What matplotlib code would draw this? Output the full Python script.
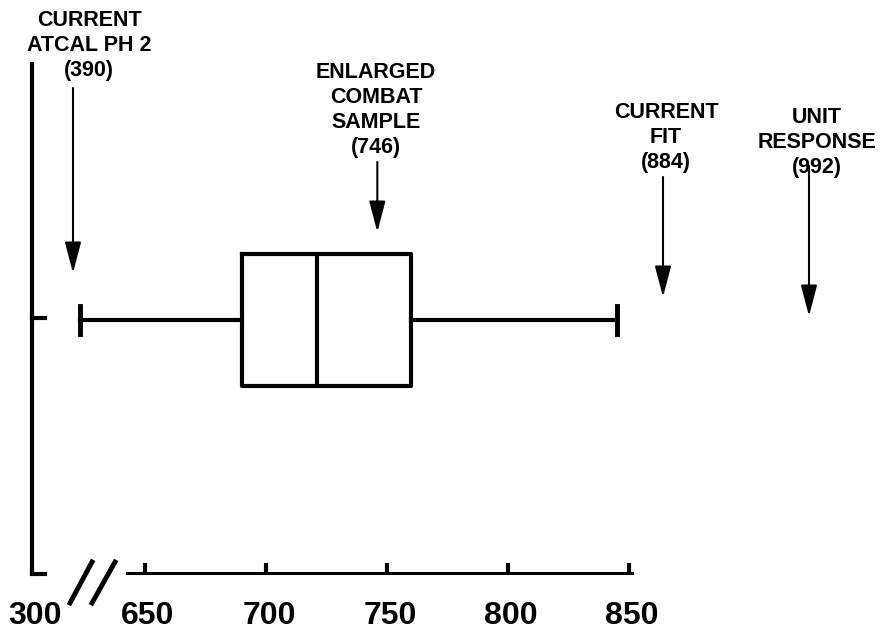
import numpy as np
import matplotlib
matplotlib.use("Agg")
import matplotlib.pyplot as plt

plt.rcParams["font.family"] = ["Liberation Sans", "DejaVu Sans"]
plt.rcParams["font.weight"] = "bold"

# box plot summary
box_whislo = 405
box_q1 = 690
box_med = 721
box_q3 = 760
box_whishi = 845

# labelled reference values with arrows
marker_labels = [
    "CURRENT\nATCAL PH 2\n(390)",
    "ENLARGED\nCOMBAT\nSAMPLE\n(746)",
    "CURRENT\nFIT\n(884)",
    "UNIT\nRESPONSE\n(992)",
]
marker_values = [390, 746, 884, 992]

tick_values = [300, 650, 700, 750, 800, 850]

# broken axis: piecewise mapping value -> pixel column
value_knots = [200, 300, 390, 410, 640, 850, 884, 992, 1100]
pixel_knots = [-14, 32, 73, 82, 120.8, 629, 663, 809, 955]


def fwd(v):
    return np.interp(v, value_knots, pixel_knots)


def inv(p):
    return np.interp(p, pixel_knots, value_knots)


fig = plt.figure(figsize=(8.8, 6.32), dpi=100)
ax = fig.add_axes([0, 0, 1, 1])
ax.set_xscale("function", functions=(fwd, inv))
ax.set_xlim(inv(0), inv(880))
ax.set_ylim(632, 0)
ax.axis("off")

# box plot
stats = [dict(whislo=box_whislo, q1=box_q1, med=box_med, q3=box_q3, whishi=box_whishi)]
ax.bxp(
    stats, positions=[320], widths=[132], capwidths=[28],
    orientation="horizontal", showfliers=False,
    boxprops=dict(color="black", lw=3),
    medianprops=dict(color="black", lw=3),
    whiskerprops=dict(color="black", lw=3),
    capprops=dict(color="black", lw=3.5),
    manage_ticks=False,
)

# arrows and labels
text_x = [89, 376, 666, 817]
text_top = [10, 62, 102, 107]
arrow_tail = [88, 162, 177, 166]
arrow_tip = [273, 232, 297, 316]
for lab, v, tx, tt, ya, yb in zip(marker_labels, marker_values, text_x, text_top, arrow_tail, arrow_tip):
    ax.text(inv(tx), tt, lab, ha="center", va="top", fontsize=15.5,
            fontweight="bold", linespacing=1.25, multialignment="center")
    ax.annotate(
        "", xy=(v, yb), xytext=(v, ya),
        arrowprops=dict(arrowstyle="-|>,head_length=1.9,head_width=0.5",
                        mutation_scale=10, lw=1.5, color="black",
                        shrinkA=0, shrinkB=0),
    )

# left axis
ax.plot([300, 300], [62, 575], color="black", lw=3, solid_capstyle="butt")
ax.plot([300, inv(fwd(300) + 13)], [574, 574], color="black", lw=3)
ax.plot([300, inv(fwd(300) + 13)], [318, 318], color="black", lw=3)

# bottom axis (broken)
ax.plot([inv(127), inv(632)], [573, 573], color="black", lw=2.2)
ax.vlines(tick_values[1:], 563, 573, color="black", lw=3)
for v in tick_values:
    ax.text(inv(fwd(v) + 3), 624, str(v), ha="center", va="baseline",
            fontsize=23, fontweight="bold")

# break marks
ax.plot([inv(70), inv(92)], [603, 562], color="black", lw=3.5)
ax.plot([inv(92), inv(115)], [603, 562], color="black", lw=3.5)

fig.savefig("out.png", dpi=100)
